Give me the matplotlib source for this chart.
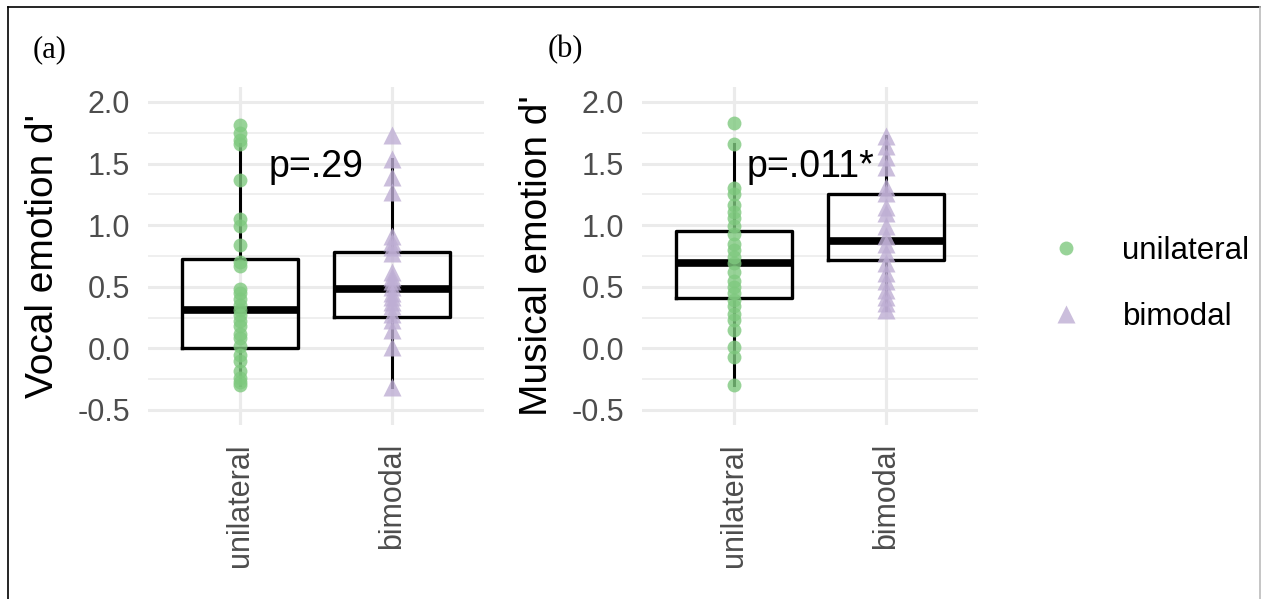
import matplotlib
matplotlib.use("Agg")
import matplotlib.pyplot as plt
from matplotlib.lines import Line2D

plt.rcParams['font.family'] = ['Liberation Sans', 'DejaVu Sans']

groups = ['unilateral', 'bimodal']
green = '#7FC97F'
purple = '#BEAED4'

# vocal emotion d' (panel a)
vocal_uni = [1.81, 1.745, 1.69, 1.66, 1.37, 1.05, 0.99, 0.84, 0.70, 0.67, 0.48, 0.45, 0.40,
             0.35, 0.31, 0.27, 0.22, 0.18, 0.12, 0.08, 0.02, -0.05, -0.10, -0.18, -0.24, -0.27, -0.30]
vocal_bi = [1.73, 1.54, 1.39, 1.27, 0.91, 0.86, 0.82, 0.77, 0.62, 0.58, 0.55, 0.50, 0.45,
            0.42, 0.38, 0.34, 0.28, 0.23, 0.15, 0.01, -0.31]
# box stats: q1, median, q3, whisker low, whisker high
vocal_box = [(0.0, 0.31, 0.725, -0.30, 1.66), (0.257, 0.479, 0.784, -0.31, 1.54)]

# musical emotion d' (panel b)
music_uni = [1.83, 1.66, 1.30, 1.25, 1.16, 1.11, 1.055, 0.99, 0.93, 0.85, 0.80, 0.74, 0.69,
             0.62, 0.55, 0.50, 0.45, 0.39, 0.34, 0.28, 0.23, 0.15, 0.01, -0.07, -0.30]
music_bi = [1.72, 1.64, 1.555, 1.47, 1.31, 1.26, 1.15, 1.10, 0.99, 0.91, 0.85, 0.77, 0.69,
            0.61, 0.55, 0.47, 0.42, 0.365, 0.31]
music_box = [(0.406, 0.69, 0.952, -0.30, 1.66), (0.717, 0.871, 1.25, 0.31, 1.72)]

panels = [
    ("(a)", "Vocal emotion d'", vocal_uni, vocal_bi, vocal_box, "p=.29"),
    ("(b)", "Musical emotion d'", music_uni, music_bi, music_box, "p=.011*"),
]

fig = plt.figure(figsize=(12.61, 5.99), dpi=100)
lefts = [148 / 1261, 642 / 1261]
tag_x = [33 / 1261, 548 / 1261]

for i, (tag, ylab, uni, bi, boxes, ptxt) in enumerate(panels):
    ax = fig.add_axes([lefts[i], 1 - 425 / 599, 336 / 1261, 338 / 599])
    ax.set_xlim(0.4, 2.6)
    ax.set_ylim(-0.622, 2.121)
    ax.set_yticks([-0.5, 0.0, 0.5, 1.0, 1.5, 2.0])
    ax.set_yticks([-0.25, 0.25, 0.75, 1.25, 1.75], minor=True)
    ax.set_yticklabels(['-0.5', '0.0', '0.5', '1.0', '1.5', '2.0'])
    ax.set_xticks([1, 2])
    ax.set_xticklabels(groups, rotation=90)
    ax.tick_params(axis='both', which='both', length=0, labelsize=22, colors='#4D4D4D', pad=13)
    ax.grid(True, which='major', color='#EBEBEB', lw=2.2)
    ax.grid(True, which='minor', axis='y', color='#EBEBEB', lw=1.1)
    ax.set_axisbelow(True)
    for s in ax.spines.values():
        s.set_visible(False)
    ax.set_ylabel(ylab, fontsize=28, labelpad=12)

    stats = []
    for (q1, med, q3, lo, hi), lab in zip(boxes, groups):
        stats.append(dict(q1=q1, med=med, q3=q3, whislo=lo, whishi=hi, fliers=[], label=lab))
    ax.bxp(stats, positions=[1, 2], widths=0.76, showfliers=False, showcaps=False,
           boxprops=dict(color='black', lw=2.4),
           whiskerprops=dict(color='black', lw=2.2),
           medianprops=dict(color='black', lw=5.5, solid_capstyle='butt'))

    ax.plot([1] * len(uni), uni, 'o', color=green, ms=10, alpha=0.8, mec='none', zorder=4)
    ax.plot([2] * len(bi), bi, '^', color=purple, ms=13, alpha=0.8, mec='none', zorder=4)
    ax.text(1.5, 1.47, ptxt, fontsize=27, ha='center', va='center', zorder=5)

    fig.text(tag_x[i], 1 - 50 / 599, tag,
             fontsize=22, family='Liberation Serif', ha='left', va='center')

handles = [
    Line2D([], [], marker='o', ls='none', color=green, alpha=0.8, mec='none', ms=10),
    Line2D([], [], marker='^', ls='none', color=purple, alpha=0.8, mec='none', ms=13),
]
fig.legend(handles, groups, loc='center left', bbox_to_anchor=(1035 / 1261, 1 - 284 / 599),
           frameon=False, fontsize=22.5, handletextpad=0.8, labelspacing=1.15,
           borderpad=0, borderaxespad=0)

# frame around the figure
fig.add_artist(Line2D([8 / 1261, 1260 / 1261], [1 - 7 / 599] * 2, color='black', lw=1.2))
fig.add_artist(Line2D([8 / 1261] * 2, [0, 1 - 7 / 599], color='black', lw=1.2))
fig.add_artist(Line2D([1259.5 / 1261] * 2, [0, 1 - 7 / 599], color='#BBBBBB', lw=1.2))

fig.savefig('out.png', dpi=100)
